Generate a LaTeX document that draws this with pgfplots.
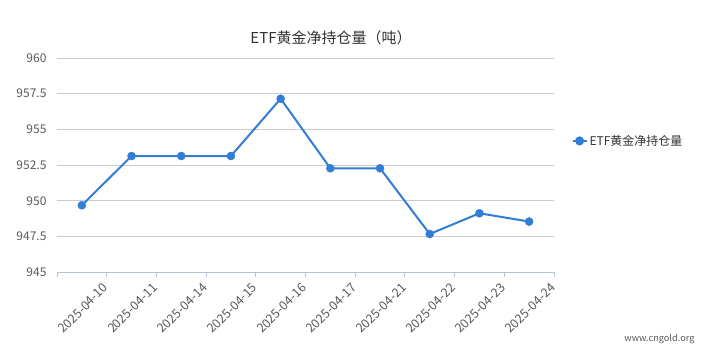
\documentclass[border=0pt]{standalone}
\usepackage{fontspec}
\setmainfont{Noto Sans CJK SC}
\usepackage{pgfplots}
\pgfplotsset{compat=1.18}
\definecolor{linec}{RGB}{50,125,214}
\definecolor{gridc}{RGB}{204,204,204}
\definecolor{axisc}{RGB}{176,196,214}
\definecolor{labc}{RGB}{90,90,90}
\definecolor{titc}{RGB}{51,51,51}
\begin{document}
\begin{tikzpicture}[x=1pt,y=1pt]
\path[use as bounding box] (0,0) rectangle (707,363);
\begin{axis}[
  at={(57pt,90.7pt)}, anchor=south west,
  scale only axis, width=497pt, height=214.3pt,
  xmin=-0.5, xmax=9.5, ymin=945, ymax=960,
  axis lines*=left,
  y axis line style={draw=none},
  x axis line style={draw=axisc, line width=0.8pt},
  ytick={945,947.5,950,952.5,955,957.5,960},
  yticklabels={945,947.5,950,952.5,955,957.5,960},
  ymajorgrids, grid style={gridc, line width=0.8pt},
  ytick style={draw=none},
  xtick={-0.5,0.5,1.5,2.5,3.5,4.5,5.5,6.5,7.5,8.5,9.5},
  xticklabels={,2025-04-10,2025-04-11,2025-04-14,2025-04-15,2025-04-16,2025-04-17,2025-04-21,2025-04-22,2025-04-23,2025-04-24},
  tick align=outside, major tick length=5pt,
  xtick style={draw=axisc, line width=0.8pt},
  /pgf/number format/assume math mode=true,
  y tick label style={font=\fontsize{12}{14}\selectfont, text=labc, xshift=-2pt},
  x tick label style={font=\fontsize{12.5}{14}\selectfont, text=labc, rotate=45, anchor=east, xshift=-3pt, yshift=-5pt},
  clip=false,
  legend style={at={(rel axis cs:1.035,0.613)}, anchor=west, draw=none, fill=none,
    font=\fontsize{12}{14}\selectfont, text=titc, inner sep=0pt},
  legend image code/.code={\draw[#1, mark=none] (0pt,0pt) -- (14pt,0pt); \fill[linec] (7pt,0pt) circle (3.5pt);},
]
\addplot[color=linec, line width=2pt, mark=*, mark size=4pt, mark options={solid, fill=linec, draw=linec, line width=0.5pt}]
coordinates {
(0,949.69) (1,953.14) (2,953.14) (3,953.14) (4,957.15)
(5,952.28) (6,952.28) (7,947.68) (8,949.13) (9,948.55)
};
\addlegendentry{ETF黄金净持仓量}
\end{axis}
\node[font=\fontsize{15}{18}\selectfont, text=titc] at (331,325) {ETF黄金净持仓量（吨）};
\node[font=\fontsize{9.2}{11}\selectfont, text=labc, anchor=east] at (698,24) {www.cngold.org};
\end{tikzpicture}
\end{document}
